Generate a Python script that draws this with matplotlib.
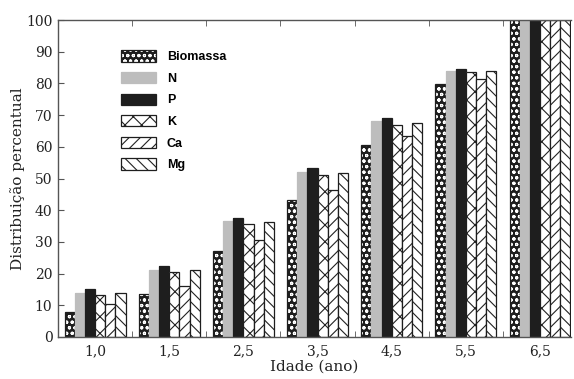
import numpy as np
import matplotlib
matplotlib.use('Agg')
import matplotlib.pyplot as plt

plt.rcParams['hatch.linewidth'] = 0.8

idades = ['1,0', '1,5', '2,5', '3,5', '4,5', '5,5', '6,5']
series = ['Biomassa', 'N', 'P', 'K', 'Ca', 'Mg']
biomassa = [7.8, 13.5, 27.0, 43.2, 60.5, 79.8, 100]
n = [14.0, 21.2, 36.5, 52.1, 68.0, 84.0, 100]
p = [15.0, 22.5, 37.6, 53.4, 69.0, 84.5, 100]
k = [13.2, 20.5, 35.5, 51.2, 67.0, 83.6, 100]
ca = [10.4, 16.0, 30.5, 46.5, 63.5, 81.3, 100]
mg = [14.0, 21.0, 36.2, 51.8, 67.5, 83.8, 100]
valores = [biomassa, n, p, k, ca, mg]

# estilo de cada serie: face, cor da hachura, hachura
estilos = [
    dict(facecolor='#1e1e1e', edgecolor='white', hatch='ooo'),
    dict(facecolor='#bdbdbd', edgecolor='#bdbdbd', hatch=None),
    dict(facecolor='#1e1e1e', edgecolor='#1e1e1e', hatch=None),
    dict(facecolor='white', edgecolor='#222222', hatch='xx'),
    dict(facecolor='white', edgecolor='#222222', hatch='///'),
    dict(facecolor='white', edgecolor='#222222', hatch='\\\\\\'),
]

fig = plt.figure(figsize=(5.74, 3.79), dpi=100)
ax = fig.add_axes([0.101, 0.111, 0.894, 0.836])

x = np.arange(len(idades))
w = 0.137
handles = []
for i, (nome, vals, st) in enumerate(zip(series, valores, estilos)):
    pos = x + (i - 2.5) * w
    b = ax.bar(pos, vals, w, linewidth=0, **st)
    cor_borda = '#1e1e1e' if i != 1 else '#bdbdbd'
    c = ax.bar(pos, vals, w, fill=False, edgecolor=cor_borda, linewidth=0.9)
    handles.append((b, c))

ax.set_xlim(-0.48, 6.42)
ax.set_ylim(0, 100)
ax.set_yticks(range(0, 101, 10))
ax.set_xticks(x)
ax.set_xticklabels(idades)
ax.set_xticks(np.arange(-0.5, 6.5, 1), minor=True)
ax.tick_params(axis='x', which='major', length=0, pad=5)
ax.tick_params(axis='x', which='minor', direction='in', length=4, top=True, bottom=True, color='#555555')
ax.tick_params(axis='y', direction='in', length=4, color='#555555', pad=4)
for lab in ax.get_xticklabels() + ax.get_yticklabels():
    lab.set_fontfamily('DejaVu Serif')
    lab.set_fontsize(10)
    lab.set_color('#222222')

for s in ['left', 'bottom', 'top']:
    ax.spines[s].set_color('#555555')
    ax.spines[s].set_linewidth(1.0)
ax.spines['right'].set_visible(False)

ax.set_xlabel('Idade (ano)', fontfamily='DejaVu Serif', fontsize=11, color='#222222', labelpad=1)
ax.set_ylabel('Distribuição percentual', fontfamily='DejaVu Serif', fontsize=11, color='#222222', labelpad=1)

ax.legend(handles=handles, labels=series, loc='upper left', bbox_to_anchor=(0.1, 0.94), frameon=False,
          prop={'family': 'Liberation Sans', 'weight': 'bold', 'size': 9},
          handlelength=2.8, handleheight=1.0, labelspacing=0.7, handletextpad=0.9)

fig.savefig('out.png', dpi=100)
